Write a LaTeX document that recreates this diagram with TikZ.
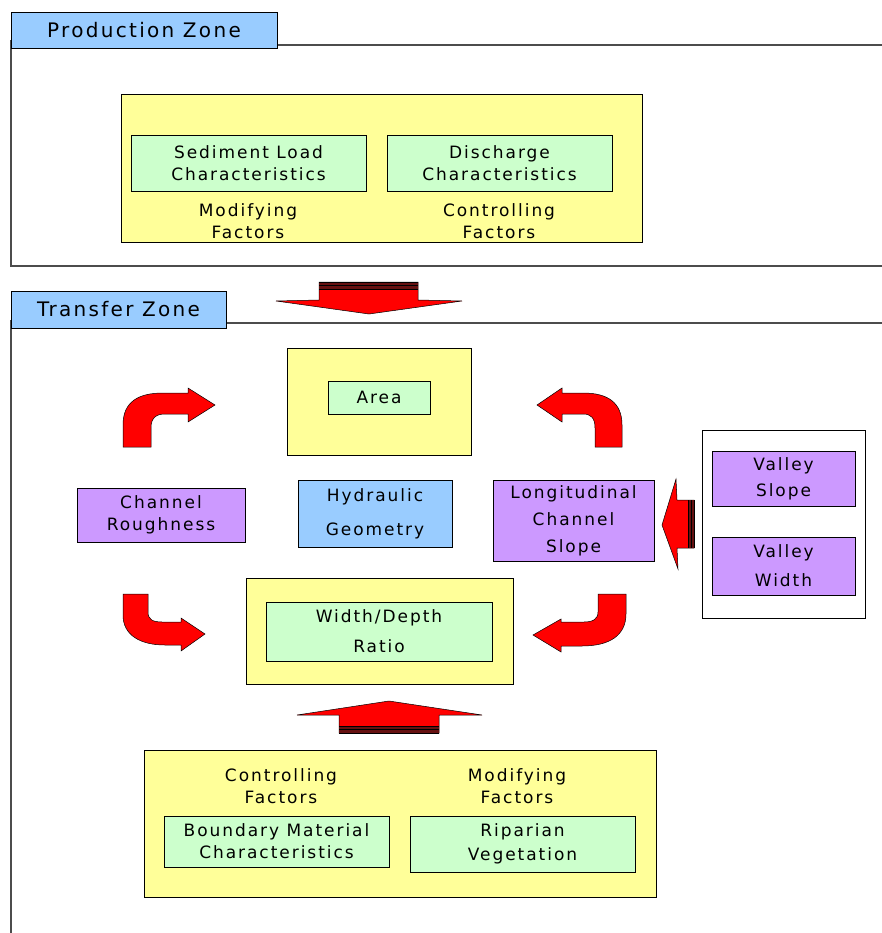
\documentclass[tikz,border=0pt]{standalone}
\usepackage{fontspec}
\setmainfont{DejaVu Sans}[LetterSpace=11.5]
\definecolor{zblue}{HTML}{99CCFF}
\definecolor{zyellow}{HTML}{FFFF99}
\definecolor{zgreen}{HTML}{CCFFCC}
\definecolor{zpurple}{HTML}{CC99FF}
\definecolor{zdark}{HTML}{661111}
\tikzset{
  bx/.style={draw=black, line width=0.8pt, inner sep=0pt, align=center, font=\fontsize{17}{22}\selectfont},
  zonelabel/.style={bx, fill=zblue, font=\fontsize{20}{24}\selectfont},
  txt/.style={inner sep=0pt, align=center, font=\fontsize{17}{22}\selectfont},
  frame/.style={draw=black!70, line width=1.3pt},
  redarrow/.style={fill=red, draw=black, line width=0.5pt, line join=miter},
}
\begin{document}
\begin{tikzpicture}[x=1pt,y=-1pt]
\useasboundingbox (0,0) rectangle (882,933);
% ---------------- Production zone
\coordinate (pztopend) at (882,45);
\coordinate (pzbotend) at (882,266);
\coordinate (pzbl) at (11,266);
\coordinate (pztl) at (11,40);
\draw[frame] (pztl) -- (pzbl) -- (pzbotend);
\draw[frame] (250,45) -- (pztopend);
\node[zonelabel, minimum width=266pt, minimum height=36pt] (pz) at (144,30) {Production Zone};
\node[bx, fill=zyellow, minimum width=521pt, minimum height=148pt] (prod) at (381.5,168) {};
\node[bx, fill=zgreen, minimum width=235pt, minimum height=56pt] (sed) at (248.5,163) {Sediment Load\\Characteristics};
\node[bx, fill=zgreen, minimum width=225pt, minimum height=56pt] (dis) at (499.5,163) {Discharge\\Characteristics};
\node[txt] (modtop) at (248,221) {Modifying\\Factors};
\node[txt] (contop) at (499,221) {Controlling\\Factors};
% down arrow
\draw[redarrow] (319,282) -- (418,282) -- (418,300) -- (462,301) -- (369,314) -- (276,301) -- (319,300) -- cycle;
\fill[zdark] (319,282) rectangle (418,289);
\draw[black, line width=0.6pt] (319,282) -- (418,282) (319,285.5) -- (418,285.5) (319,289) -- (418,289);
% ---------------- Transfer zone
\coordinate (tztopend) at (882,323);
\coordinate (tzbl) at (11,933);
\coordinate (tztl) at (11,320);
\draw[frame] (tztl) -- (tzbl);
\draw[frame] (200,323) -- (tztopend);
\node[zonelabel, minimum width=215pt, minimum height=37pt] (tz) at (118.5,309.5) {Transfer Zone};
% Area
\node[bx, fill=zyellow, minimum width=184pt, minimum height=107pt] (areaout) at (379,401.5) {};
\node[bx, fill=zgreen, minimum width=102pt, minimum height=33pt] (area) at (379,397.5) {Area};
% middle row
\node[bx, fill=zpurple, minimum width=168pt, minimum height=54pt] (rough) at (161,515) {Channel\\Roughness};
\node[bx, fill=zblue, minimum width=154pt, minimum height=67pt] (hyd) at (375,513.5) {Hydraulic\\[12pt]Geometry};
\node[bx, fill=zpurple, minimum width=161pt, minimum height=81pt] (longi) at (573.5,520.5) {Longitudinal\\[5pt]Channel\\[5pt]Slope};
% valley frame
\node[bx, fill=white, minimum width=163pt, minimum height=188pt] (valley) at (783.5,524) {};
\node[bx, fill=zpurple, minimum width=143pt, minimum height=55pt] (vslope) at (783.5,478.5) {Valley\\[4pt]Slope};
\node[bx, fill=zpurple, minimum width=143pt, minimum height=58pt] (vwidth) at (783.5,566) {Valley\\[7pt]Width};
% left arrow from valley
\draw[redarrow] (694,500) -- (694,548) -- (677,548) -- (678,569) -- (662,525) -- (676,479) -- (677,500) -- cycle;
\fill[zdark] (688,500) rectangle (694,548);
\draw[black, line width=0.6pt] (688,500) -- (688,548) (691,500) -- (691,548) (694,500) -- (694,548);
% Width/Depth
\node[bx, fill=zyellow, minimum width=267pt, minimum height=106pt] (wdout) at (379.5,631) {};
\node[bx, fill=zgreen, minimum width=226pt, minimum height=59pt] (wd) at (379,631.5) {Width/Depth\\[8pt]Ratio};
% curved arrows
\draw[redarrow] (123,447) -- (123,425) .. controls (123,402) and (138,393) .. (163,393) -- (188,393) -- (188,388) -- (215,405) -- (188,422) -- (188,414) -- (165,414) .. controls (156,414) and (151,418) .. (151,428) -- (151,447) -- cycle;
\draw[redarrow] (622,447) -- (622,425) .. controls (622,402) and (607,393) .. (583,393) -- (562,393) -- (562,388) -- (537,405) -- (562,422) -- (562,414) -- (583,414) .. controls (591,414) and (595,418) .. (595,428) -- (595,447) -- cycle;
\draw[redarrow] (123,594) -- (148,594) -- (148,612) .. controls (148,619) and (152,622) .. (162,622) -- (181,622) -- (181,618) -- (205,634) -- (181,651) -- (181,645) -- (165,645) .. controls (140,645) and (123,635) .. (123,615) -- cycle;
\draw[redarrow] (626,594) -- (598,594) -- (598,612) .. controls (598,619) and (593,622) .. (584,622) -- (561,622) -- (561,619) -- (533,635) -- (561,652) -- (561,646) -- (582,646) .. controls (610,646) and (626,635) .. (626,614) -- cycle;
% up arrow
\draw[redarrow] (339,733) -- (439,733) -- (439,715) -- (482,715) -- (389,701) -- (297,715) -- (339,715) -- cycle;
\fill[zdark] (339,726) rectangle (439,733);
\draw[black, line width=0.6pt] (339,726) -- (439,726) (339,729.5) -- (439,729.5) (339,733) -- (439,733);
% bottom factors
\node[bx, fill=zyellow, minimum width=512pt, minimum height=147pt] (bot) at (400,823.5) {};
\node[txt] (conbot) at (281,786) {Controlling\\Factors};
\node[txt] (modbot) at (517,786) {Modifying\\Factors};
\node[bx, fill=zgreen, minimum width=225pt, minimum height=51pt] (bound) at (276.5,841.5) {Boundary Material\\Characteristics};
\node[bx, fill=zgreen, minimum width=225pt, minimum height=56pt] (rip) at (522.5,844) {Riparian\\[2pt]Vegetation};
\end{tikzpicture}
\end{document}
